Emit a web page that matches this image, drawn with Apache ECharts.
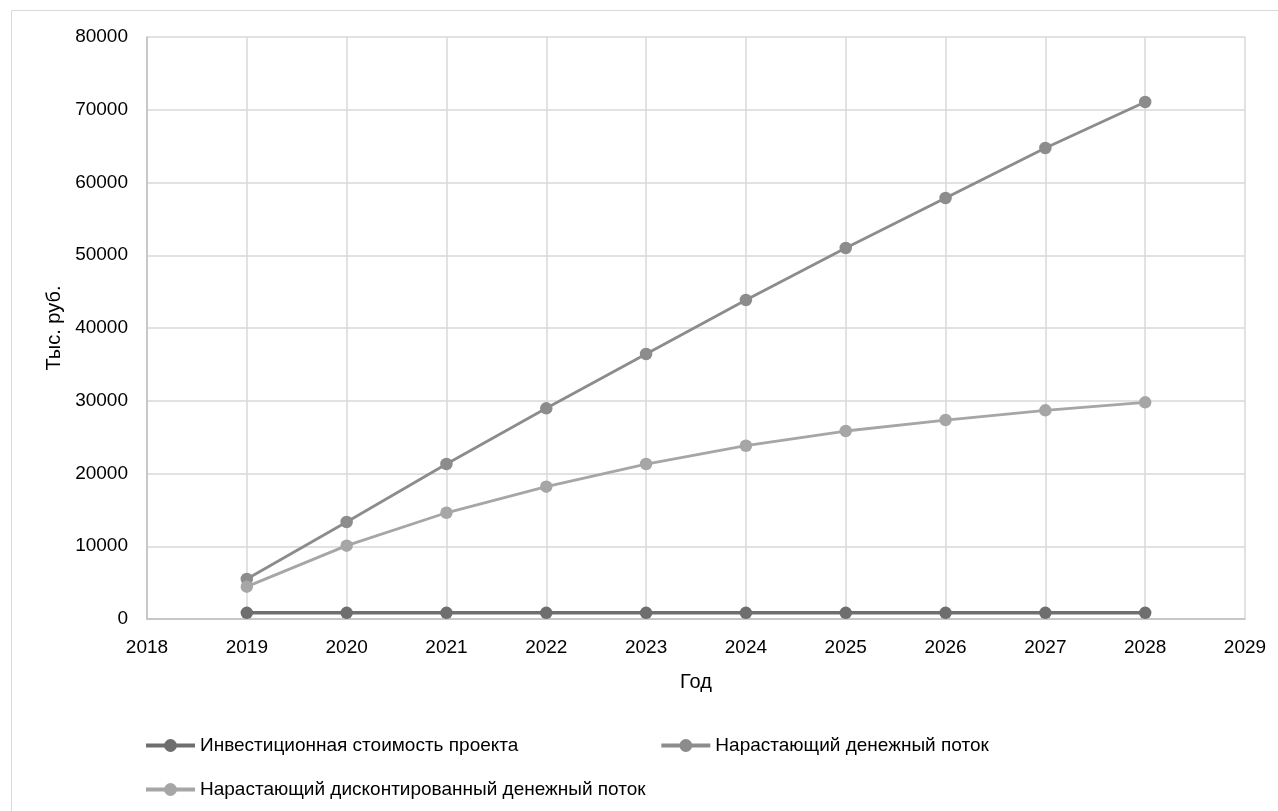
<!DOCTYPE html>
<html>
<head>
<meta charset="utf-8">
<script src="https://cdn.jsdelivr.net/npm/echarts@6/dist/echarts.min.js"></script>
<style>html,body{margin:0;padding:0;background:#fff}#c{width:1278px;height:811px}</style>
</head>
<body>
<div id="c"></div>
<script>
var years = [2019, 2020, 2021, 2022, 2023, 2024, 2025, 2026, 2027, 2028];
var seriesNames = ['Инвестиционная стоимость проекта', 'Нарастающий денежный поток', 'Нарастающий дисконтированный денежный поток'];
var investment = [850, 850, 850, 850, 850, 850, 850, 850, 850, 850];
var cumulative = [5500, 13330, 21300, 28960, 36430, 43850, 51000, 57870, 64740, 71070];
var discounted = [4450, 10080, 14600, 18190, 21300, 23820, 25840, 27350, 28680, 29780];
var yTicks = [0, 10000, 20000, 30000, 40000, 50000, 60000, 70000, 80000];
var colors = ['#6e6e6e', '#8c8c8c', '#a6a6a6'];
var FONT = 'Liberation Sans';

function pairs(v){ return years.map(function(y,i){ return [y, v[i]]; }); }
function mkSeries(name, vals, color, width){
  return {
    name: name, type: 'line', data: pairs(vals),
    symbol: 'circle', symbolSize: 12.5, showSymbol: true,
    lineStyle: {color: color, width: width},
    itemStyle: {color: color},
    emphasis: {disabled: true},
    animation: false
  };
}
var legendCommon = {
  itemWidth: 49, itemHeight: 16, itemGap: 141,
  textStyle: {fontSize: 19, color: '#000', fontFamily: FONT},
  lineStyle: {width: 4},
  selectedMode: false
};
var chart = echarts.init(document.getElementById('c'));
chart.setOption({
  backgroundColor: '#fff',
  textStyle: {fontFamily: FONT},
  graphic: [{
    type: 'rect', silent: true,
    shape: {x: 11.5, y: 10.5, width: 1400, height: 1000},
    style: {fill: 'none', stroke: '#d9d9d9', lineWidth: 1}
  }],
  grid: {left: 147, top: 37, right: 33, bottom: 192, containLabel: false},
  xAxis: {
    type: 'value', min: 2018, max: 2029, interval: 1,
    name: 'Год', nameLocation: 'middle', nameGap: 53,
    nameTextStyle: {fontSize: 20, color: '#000', fontFamily: FONT},
    axisLine: {show: true, lineStyle: {color: '#bfbfbf', width: 1.5}},
    axisTick: {show: false},
    axisLabel: {fontSize: 19, color: '#000', margin: 19, fontFamily: FONT, formatter: function(v){ return String(v); }},
    splitLine: {show: true, lineStyle: {color: '#d9d9d9', width: 1.5}}
  },
  yAxis: {
    type: 'value', min: 0, max: 80000, interval: 10000,
    name: 'Тыс. руб.', nameLocation: 'middle', nameGap: 80, nameRotate: 90,
    nameTextStyle: {fontSize: 20, color: '#000', fontFamily: FONT},
    axisLine: {show: true, lineStyle: {color: '#bfbfbf', width: 1.5}},
    axisTick: {show: false},
    axisLabel: {fontSize: 19, color: '#000', margin: 19, fontFamily: FONT,
      formatter: function(v){ return yTicks.indexOf(v) >= 0 ? String(v) : ''; }},
    splitLine: {show: true, lineStyle: {color: '#d9d9d9', width: 1.5}}
  },
  legend: [
    Object.assign({data: [seriesNames[0], seriesNames[1]], left: 139, top: 731}, legendCommon),
    Object.assign({data: [seriesNames[2]], left: 139, top: 775}, legendCommon)
  ],
  series: [
    mkSeries(seriesNames[0], investment, colors[0], 3.5),
    mkSeries(seriesNames[1], cumulative, colors[1], 2.8),
    mkSeries(seriesNames[2], discounted, colors[2], 2.8)
  ]
});
</script>
</body>
</html>
